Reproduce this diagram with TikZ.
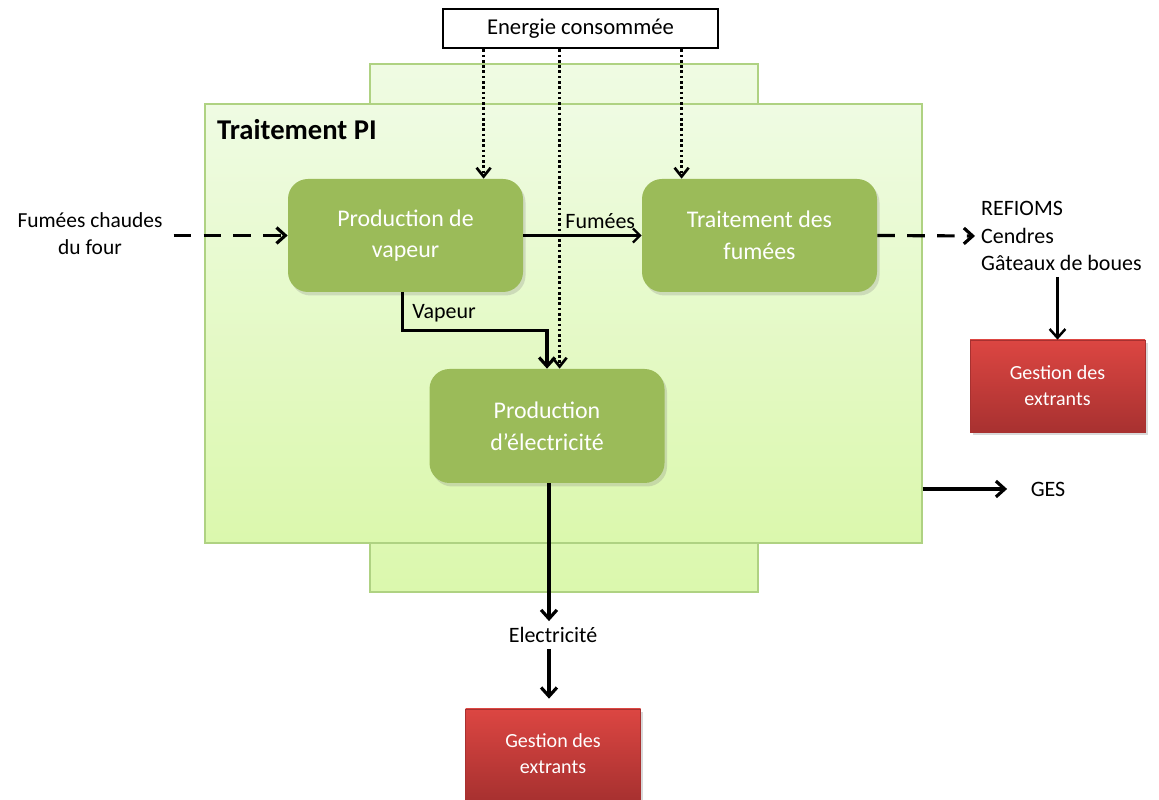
\documentclass[tikz,border=0pt]{standalone}
\usepackage{fontspec}
\setmainfont{Carlito}
\usetikzlibrary{positioning, shadows, calc, arrows.meta}

\definecolor{procgreen}{HTML}{9BBB59}
\definecolor{zonetop}{HTML}{EFFBE3}
\definecolor{zonebottom}{HTML}{DBF8AD}
\definecolor{zoneline}{HTML}{AFD282}
\definecolor{outtop}{HTML}{DC4642}
\definecolor{outbottom}{HTML}{A83130}

\begin{document}
\begin{tikzpicture}[
    zone/.style={draw=zoneline, line width=0.8pt, top color=zonetop, bottom color=zonebottom, inner sep=0pt},
    procbox/.style={fill=procgreen, rounded corners=0.4cm, minimum width=4.7cm, minimum height=2.26cm, text=white, align=center, font=\fontsize{13.6}{18}\selectfont, drop shadow={opacity=0.25, shadow xshift=0.05cm, shadow yshift=-0.07cm}},
    outbox/.style={draw=outbottom, top color=outtop, bottom color=outbottom, minimum width=3.5cm, minimum height=1.84cm, text=white, align=center, font=\fontsize{11.4}{14.7}\selectfont, drop shadow={opacity=0.3, shadow xshift=0.05cm, shadow yshift=-0.07cm}},
    lbl/.style={font=\fontsize{12.5}{15.5}\selectfont, align=center},
    flow/.style={-{Straight Barb[length=5pt, width=9pt]}, line width=1.8pt},
    thinflow/.style={-{Straight Barb[length=4pt, width=8pt]}, line width=1.3pt},
    dashflow/.style={flow, dash pattern=on 10pt off 7pt},
    energy/.style={-{Straight Barb[length=5pt, width=8pt]}, line width=1.5pt, dash pattern=on 1.5pt off 1.5pt}
]
        \useasboundingbox (0,0) rectangle (23.18,16);

        % Zones
        \node[zone, minimum width=7.76cm, minimum height=10.56cm] (back) at (11.28, 9.44) {};
        \node[zone, minimum width=14.34cm, minimum height=8.78cm] (pi) at (11.27, 9.53) {};
        \node[anchor=west, font=\fontsize{16.3}{19}\selectfont\bfseries] (pilabel) at (4.22, 13.40) {Traitement PI};

        % Nodes
        \node[draw, line width=1.6pt, fill=white, minimum width=5.5cm, minimum height=0.78cm, font=\fontsize{12.9}{15}\selectfont] (energie) at (11.61, 15.43) {Energie consommée};
        \node[procbox] (vapeur) at (8.11, 11.29) {Production de\\vapeur};
        \node[procbox] (fumees) at (15.19, 11.29) {Traitement des\\fumées};
        \node[procbox, minimum height=2.28cm] (elec) at (10.94, 7.48) {Production\\d’électricité};
        \node[outbox] (gestionA) at (21.15, 8.28) {Gestion des\\extrants};
        \node[outbox, minimum height=1.80cm] (gestionB) at (11.06, 0.92) {Gestion des\\extrants};

        % Texts
        \node[lbl, font=\fontsize{12.2}{15.5}\selectfont] (four) at (1.80, 11.32) {Fumées chaudes\\du four};
        \node[lbl, align=left, anchor=west, font=\fontsize{12.5}{15.6}\selectfont] (refioms) at (19.50, 11.28) {REFIOMS\\Cendres\\Gâteaux de boues};
        \node[lbl] (ges) at (20.96, 6.22) {GES};
        \node[lbl] (elecout) at (11.06, 3.30) {Electricité};

        % Energy arrows
        \coordinate (e1) at ($(energie.south west)+(0.84,0)$);
        \coordinate (e2) at ($(energie.south west)+(2.36,0)$);
        \coordinate (e3) at ($(energie.south west)+(4.80,0)$);
        \draw[energy] (e1) -- (e1 |- vapeur.north);
        \draw[energy] (e2) -- (e2 |- elec.north);
        \draw[energy] (e3) -- (e3 |- fumees.north);

        % Arrows
        \draw[dashflow] ([xshift=0.1cm]four.east |- vapeur.west) -- (vapeur.west);
        \draw[thinflow] (vapeur.east) -- node[lbl, above, pos=0.65] {Fumées} (fumees.west);
        \draw[flow] ([xshift=-0.06cm]vapeur.south) -- node[lbl, right, pos=0.55, xshift=0.05cm] {Vapeur} ++(0,-0.76) -| (elec.north);
        \draw[dashflow] (fumees.east) -- (refioms.west);
        \draw[flow, line width=1.4pt] (refioms.south -| gestionA.north) -- (gestionA.north);
        \draw[flow] (pi.east |- ges) -- ([xshift=-0.35cm]ges.west);
        \draw[flow] ([xshift=0.04cm]elec.south) -- ([xshift=0.04cm]elec.south |- elecout.north);
        \draw[flow, shorten >=0.2cm] ([xshift=0.04cm]elec.south |- elecout.south) -- ([xshift=0.04cm]elec.south |- gestionB.north);
    \end{tikzpicture}
\end{document}
